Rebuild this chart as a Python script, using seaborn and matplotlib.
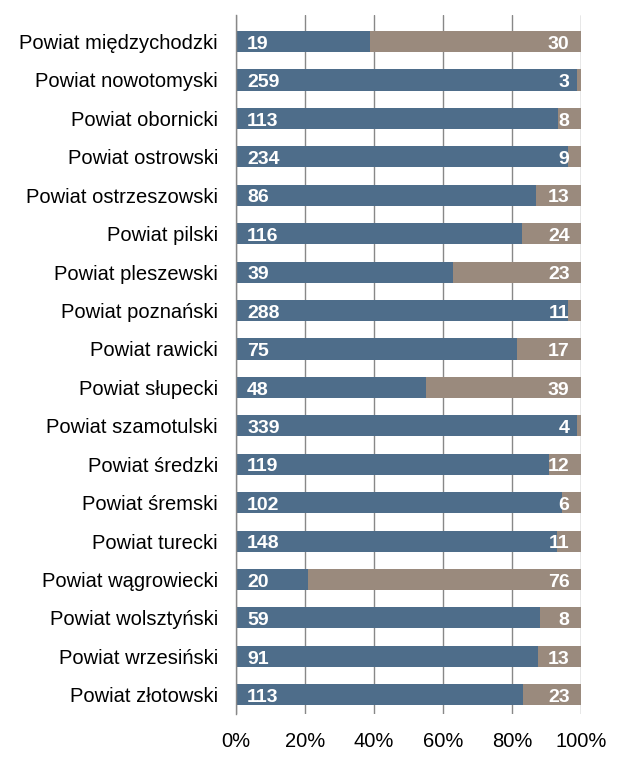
import matplotlib
matplotlib.use("Agg")
import matplotlib.pyplot as plt
import seaborn as sns
import pandas as pd
import numpy as np

categories = [
    "Powiat międzychodzki", "Powiat nowotomyski", "Powiat obornicki", "Powiat ostrowski",
    "Powiat ostrzeszowski", "Powiat pilski", "Powiat pleszewski", "Powiat poznański",
    "Powiat rawicki", "Powiat słupecki", "Powiat szamotulski", "Powiat średzki",
    "Powiat śremski", "Powiat turecki", "Powiat wągrowiecki", "Powiat wolsztyński",
    "Powiat wrzesiński", "Powiat złotowski",
]
series_a = [19, 259, 113, 234, 86, 116, 39, 288, 75, 48, 339, 119, 102, 148, 20, 59, 91, 113]
series_b = [30, 3, 8, 9, 13, 24, 23, 11, 17, 39, 4, 12, 6, 11, 76, 8, 13, 23]
tick_labels = ["0%", "20%", "40%", "60%", "80%", "100%"]

sns.set_theme(style="white")
plt.rcParams['font.family'] = ['Liberation Sans', 'DejaVu Sans']

c_a = "#4E6D8A"
c_b = "#9A8A7D"

a = np.array(series_a, float)
b = np.array(series_b, float)
tot = a + b
df = pd.DataFrame({"cat": categories, "a": a / tot, "full": np.ones_like(a)})

fig = plt.figure(figsize=(6.31, 7.64), dpi=100)
ax = fig.add_axes([236/631, 1 - 714/764, 345/631, (714 - 15)/764])

sns.barplot(data=df, y="cat", x="full", orient="h", color=c_b, width=0.55,
            saturation=1, linewidth=0, edgecolor="none", ax=ax, zorder=2)
sns.barplot(data=df, y="cat", x="a", orient="h", color=c_a, width=0.55,
            saturation=1, linewidth=0, edgecolor="none", ax=ax, zorder=3)

for i in range(len(categories)):
    ax.text(0.032, i + 0.02, f"{int(a[i])}", color="white", fontweight="bold",
            fontsize=14, va="center_baseline", ha="left", zorder=5)
    ax.text(0.967, i + 0.02, f"{int(b[i])}", color="white", fontweight="bold",
            fontsize=14, va="center_baseline", ha="right", zorder=5)

ax.set_xlim(0, 1)
ax.set_ylim(len(categories) - 0.5, -0.69)
ax.set_xticks(np.linspace(0, 1, 6))
ax.set_xticklabels(tick_labels, fontsize=14.5)
ax.tick_params(axis="y", labelsize=14.5, length=0, pad=13)
ax.tick_params(axis="x", length=0, pad=13)
for lab in ax.get_yticklabels():
    lab.set_color("black")
for lab in ax.get_xticklabels():
    lab.set_color("black")
ax.set_xlabel("")
ax.set_ylabel("")
ax.grid(axis="x", color="#888888", linewidth=1, zorder=0)
ax.set_axisbelow(True)
for s in ["top", "right", "bottom"]:
    ax.spines[s].set_visible(False)
ax.spines["left"].set_color("#888888")
ax.spines["left"].set_linewidth(1)
ax.spines["left"].set_zorder(6)

fig.savefig("out.png", dpi=100)
